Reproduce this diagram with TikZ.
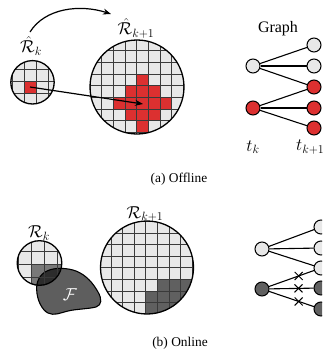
\documentclass[tikz,border=0pt]{standalone}
\usepackage{fontspec}
\setmainfont{Liberation Serif}
\usetikzlibrary{arrows.meta,shapes.misc}
\definecolor{lg}{HTML}{E8E8E8}
\definecolor{rd}{HTML}{DC3030}
\definecolor{dg}{HTML}{606060}
\definecolor{gl}{HTML}{3A3A3A}
\tikzset{
  gridline/.style={draw=gl, line width=0.8pt},
  circ/.style={draw=black, line width=1.3pt},
  gn/.style={circle, draw=black, line width=1pt, minimum size=14pt, inner sep=0pt},
  conn/.style={draw=black, line width=1.1pt},
  xmark/.style={cross out, draw=black, line width=1pt, minimum size=7pt, inner sep=0pt},
  lbl/.style={font=\fontsize{17}{20}\selectfont, inner sep=0pt},
  captext/.style={font=\fontsize{13.4}{16}\selectfont, inner sep=0pt},
}
\begin{document}
\begin{tikzpicture}[x=1pt,y=-1pt]
\useasboundingbox (0,0) rectangle (322,351);
\clip (0,0) rectangle (322,351);

% ---------- (a) Offline ----------
% small circle
\begin{scope}
  \clip (32.5,82.3) circle (21.7);
  \fill[lg] (32.5,82.3) circle (21.7);
  \fill[rd] (24,81.7) rectangle (36,93.7);
  \foreach \k in {0,...,4} \draw[gridline] ({0+\k*12},50) -- ++(0,70);
  \foreach \k in {0,...,4} \draw[gridline] (0,{57.7+\k*12}) -- ++(70,0);
\end{scope}
\draw[circ] (32.5,82.3) circle (21.7);

% big circle
\begin{scope}
  \clip (137,87) circle (47);
  \fill[lg] (137,87) circle (47);
  \foreach \i/\j in {0/-2,-1/-1,0/-1,1/-1,-2/0,-1/0,0/0,1/0,2/0,-1/1,0/1,1/1,0/2}
    \fill[rd] ({136.7+\i*11.65},{97.3+\j*11.65}) rectangle ++(11.65,11.65);
  \foreach \k in {-5,...,5} \draw[gridline] ({136.7+\k*11.65},30) -- ++(0,120);
  \foreach \k in {-6,...,4} \draw[gridline] (80,{97.3+\k*11.65}) -- ++(120,0);
\end{scope}
\draw[circ] (137,87) circle (47);

\coordinate (a1) at (30,87);
\coordinate (a2) at (143,104);
\draw[line width=1.2pt, -{Stealth[length=8pt,width=6pt]}] (a1) -- (a2);

\coordinate (c1) at (30,32);
\coordinate (c2) at (111,14);
\draw[line width=1.2pt, -{Stealth[length=8pt,width=6pt]}] (c1) .. controls (45,8) and (80,4) .. (c2);

\node[lbl] (lRk) at (31,46) {$\hat{\mathcal{R}}_k$};
\node[lbl] (lRk1) at (136,28) {$\hat{\mathcal{R}}_{k+1}$};

% graph (a)
\node[font=\fontsize{16}{19}\selectfont, inner sep=0pt] (gtitle) at (278,29) {Graph};
\node[gn, fill=lg] (u1) at (253,66) {};
\node[gn, fill=rd] (u2) at (253,108) {};
\node[gn, fill=lg] (w1) at (314,45) {};
\node[gn, fill=lg] (w2) at (314,66) {};
\node[gn, fill=rd] (w3) at (314,87) {};
\node[gn, fill=rd] (w4) at (314,108) {};
\node[gn, fill=rd] (w5) at (314,128) {};
\draw[conn] (u1) -- (w1);
\draw[conn] (u1) -- (w2);
\draw[conn] (u1) -- (w3);
\draw[conn] (u2) -- (w3);
\draw[conn] (u2) -- (w4);
\draw[conn] (u2) -- (w5);
\node[lbl] (tk) at (253,147) {$t_k$};
\node[lbl, anchor=west] (tk1) at (296,147) {$t_{k+1}$};

\node[captext] (capa) at (179,179) {(a) Offline};

% ---------- (b) Online ----------
% small circle with F
\begin{scope}
  \clip (39.5,263) circle (22.3);
  \fill[lg] (39.5,263) circle (22.3);
  \fill[dg!85] (31.7,264) rectangle (70,300);
\end{scope}
\draw[draw=black, line width=1.1pt, fill=black, fill opacity=0.63]
  (36.7,290) .. controls (36,282) and (40,274) .. (47,271)
  .. controls (55,267) and (68,268) .. (76,271)
  .. controls (86,275) and (93,283) .. (98,292)
  .. controls (102,299) and (102,305) .. (96,307)
  .. controls (88,309) and (76,309) .. (68,311)
  .. controls (60,313) and (54,316) .. (48,313)
  .. controls (42,310) and (37,300) .. cycle;
\node[lbl, text=white, font=\fontsize{16}{19}\selectfont] (lF) at (70,295) {$\mathcal{F}$};
\begin{scope}
  \clip (39.5,263) circle (22.3);
  \foreach \k in {0,...,4} \draw[gridline] ({5.7+\k*13},230) -- ++(0,70);
  \foreach \k in {0,...,4} \draw[gridline] (0,{238+\k*13}) -- ++(80,0);
\end{scope}
\draw[circ] (39.5,263) circle (22.3);

% big circle
\begin{scope}
  \clip (147,267.5) circle (46.5);
  \fill[lg] (147,267.5) circle (46.5);
  \fill[dg] (157.3,279.3) rectangle (200,290.9);
  \fill[dg] (145.7,290.9) rectangle (200,320);
  \foreach \k in {-5,...,5} \draw[gridline] ({145.7+\k*11.6},210) -- ++(0,120);
  \foreach \k in {-5,...,5} \draw[gridline] (90,{267.7+\k*11.6}) -- ++(120,0);
\end{scope}
\draw[circ] (147,267.5) circle (46.5);

\node[lbl] (lRkb) at (39,233) {$\mathcal{R}_k$};
\node[lbl] (lRk1b) at (145,214) {$\mathcal{R}_{k+1}$};

% graph (b)
\node[gn, fill=lg] (p1) at (262,249) {};
\node[gn, fill=dg] (p2) at (262,289) {};
\node[gn, fill=lg] (q1) at (321,227) {};
\node[gn, fill=lg] (q2) at (321,248) {};
\node[gn, fill=lg] (q3) at (321,268) {};
\node[gn, fill=dg] (q4) at (321,288) {};
\node[gn, fill=dg] (q5) at (321,309) {};
\draw[conn] (p1) -- (q1);
\draw[conn] (p1) -- (q2);
\draw[conn] (p1) -- (q3);
\draw[conn] (p2) -- node[xmark, pos=0.66] (x1) {} (q3);
\draw[conn] (p2) -- node[xmark, pos=0.66] (x2) {} (q4);
\draw[conn] (p2) -- node[xmark, pos=0.66] (x3) {} (q5);

\node[captext] (capb) at (180,343) {(b) Online};
\end{tikzpicture}
\end{document}
